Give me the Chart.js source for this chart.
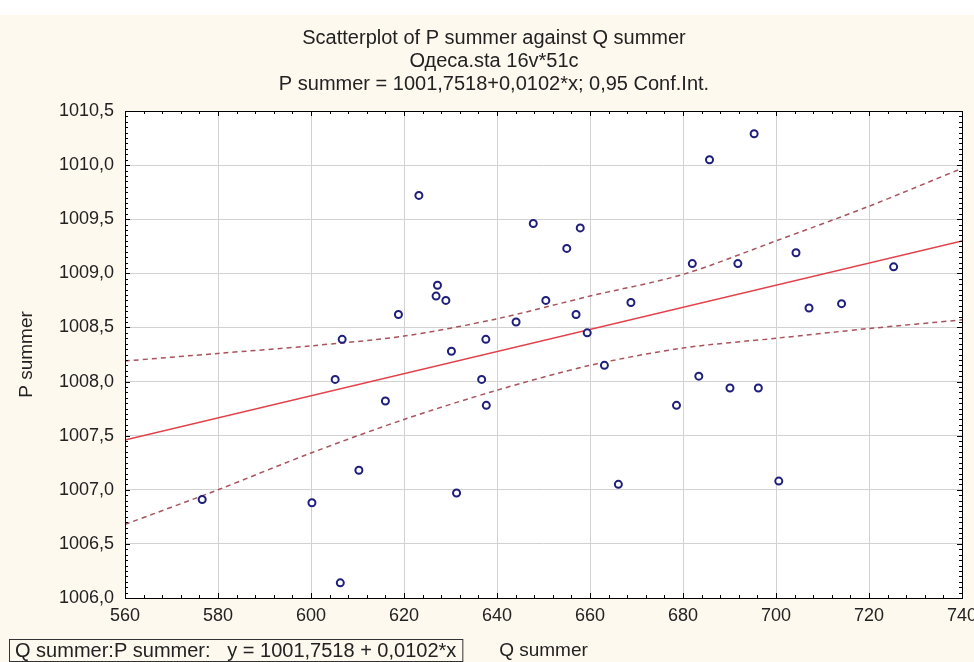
<!DOCTYPE html>
<html>
<head>
<meta charset="utf-8">
<script src="https://cdn.jsdelivr.net/npm/chart.js@4.4.1/dist/chart.umd.min.js"></script>
<style>
html, body { margin: 0; padding: 0; background: #fff; }
#area { display: block; }
</style>
</head>
<body>
<canvas id="area" width="974" height="662"></canvas>
<script>
var qSummer = [576.6, 600.2, 605.2, 606.3, 606.7, 610.3, 616.0, 618.8, 623.2, 626.9,
               627.2, 629.0, 630.2, 631.3, 636.7, 637.6, 637.7, 644.1, 647.8, 650.5,
               655.0, 657.0, 657.9, 659.4, 663.1, 666.1, 668.8, 678.6, 682.0, 683.4,
               685.7, 690.1, 691.8, 695.3, 696.2, 700.6, 704.3, 707.1, 714.1, 725.3];
var pSummer = [1006.91, 1006.88, 1008.02, 1006.14, 1008.39, 1007.18, 1007.82, 1008.62, 1009.72, 1008.79,
               1008.89, 1008.75, 1008.28, 1006.97, 1008.02, 1008.39, 1007.78, 1008.55, 1009.46, 1008.75,
               1009.23, 1008.62, 1009.42, 1008.45, 1008.15, 1007.05, 1008.73, 1007.78, 1009.09, 1008.05,
               1010.05, 1007.94, 1009.09, 1010.29, 1007.94, 1007.08, 1009.19, 1008.68, 1008.72, 1009.06];

// fitted line y = 1001,7518 + 0,0102*x at the axis ends
var fitX = [560, 740];
var fitY = [1007.46, 1009.30];

// 0,95 confidence band
var bandX = [560, 580, 600, 620, 640, 660, 680, 700, 720, 740];
var bandUpper = [1008.19, 1008.26, 1008.33, 1008.42, 1008.58, 1008.79, 1008.99, 1009.30, 1009.62, 1009.97];
var bandLower = [1006.68, 1007.00, 1007.34, 1007.65, 1007.92, 1008.15, 1008.31, 1008.40, 1008.49, 1008.57];

var titleLines = ['Scatterplot of P summer against Q summer', 'Одеса.sta 16v*51c',
                  'P summer = 1001,7518+0,0102*x; 0,95 Conf.Int.'];
var legendText = 'Q summer:P summer:   y = 1001,7518 + 0,0102*x';

var FONT = '"Liberation Sans", Arial, sans-serif';

function pairs(xs, ys) {
    return xs.map(function (x, i) { return { x: x, y: ys[i] }; });
}
function comma(v, digits) {
    return Number(v).toFixed(digits).replace('.', ',');
}

var frame = {
    id: 'frame',
    beforeDraw: function (chart) {
        var c = chart.ctx, a = chart.chartArea;
        c.save();
        c.fillStyle = '#fdf9ef';
        c.fillRect(0, 15, chart.width, chart.height - 15);
        c.fillStyle = '#ffffff';
        c.fillRect(a.left, a.top, a.right - a.left, a.bottom - a.top);
        c.restore();
    },
    afterDraw: function (chart) {
        var c = chart.ctx, a = chart.chartArea;
        var xs = chart.scales.x, ys = chart.scales.y;
        c.save();
        c.strokeStyle = '#000';
        c.lineWidth = 1;
        c.beginPath();
        // minor ticks, pointing inwards
        for (var q = 560; q <= 740; q += 4) {
            var px = Math.round(xs.getPixelForValue(q)) + 0.5;
            var len = (q % 20 === 0) ? 5 : 3;
            c.moveTo(px, a.top); c.lineTo(px, a.top + len);
            c.moveTo(px, a.bottom); c.lineTo(px, a.bottom - len);
        }
        for (var k = 0; k <= 90; k++) {
            var py = Math.round(ys.getPixelForValue(1006 + k * 0.05)) + 0.5;
            var l2 = (k % 10 === 0) ? 5 : 3;
            c.moveTo(a.left, py); c.lineTo(a.left + l2, py);
            c.moveTo(a.right, py); c.lineTo(a.right - l2, py);
        }
        c.stroke();
        c.strokeRect(Math.round(a.left) + 0.5, Math.round(a.top) + 0.5,
                     Math.round(a.right - a.left), Math.round(a.bottom - a.top));
        // regression legend box
        c.font = '20px ' + FONT;
        c.fillStyle = '#222';
        c.textBaseline = 'middle';
        c.fillText(legendText, 15, 651);
        var w = c.measureText(legendText).width;
        c.strokeStyle = '#333';
        c.strokeRect(9.5, 639.5, w + 12, 22);
        c.restore();
    }
};

var ctx = document.getElementById('area').getContext('2d');
var myChart = new Chart(ctx, {
    type: 'scatter',
    data: {
        datasets: [{
            label: 'P summer',
            data: pairs(qSummer, pSummer),
            pointStyle: 'circle',
            pointRadius: 3.5,
            pointBorderWidth: 2,
            borderColor: '#1e1e7c',
            backgroundColor: '#ffffff',
            order: 0
        }, {
            type: 'line',
            label: 'fit',
            data: pairs(fitX, fitY),
            borderColor: '#e2414b',
            borderWidth: 1.5,
            pointRadius: 0,
            order: 1
        }, {
            type: 'line',
            label: 'upper',
            data: pairs(bandX, bandUpper),
            borderColor: '#a8545c',
            borderWidth: 1.5,
            borderDash: [5, 4],
            pointRadius: 0,
            tension: 0.3,
            order: 2
        }, {
            type: 'line',
            label: 'lower',
            data: pairs(bandX, bandLower),
            borderColor: '#a8545c',
            borderWidth: 1.5,
            borderDash: [5, 4],
            pointRadius: 0,
            tension: 0.3,
            order: 2
        }]
    },
    plugins: [frame],
    options: {
        responsive: false,
        animation: false,
        events: [],
        layout: { autoPadding: false, padding: { left: 26, right: 12, top: 0, bottom: 0 } },
        plugins: {
            legend: { display: false },
            tooltip: { enabled: false },
            title: {
                display: true,
                text: titleLines,
                color: '#222',
                font: { family: FONT, size: 20, weight: 'normal', lineHeight: '23px' },
                padding: { top: 27, bottom: 15 }
            }
        },
        scales: {
            x: {
                type: 'linear',
                min: 560, max: 740,
                ticks: {
                    stepSize: 20, padding: 7, color: '#222',
                    font: { family: FONT, size: 18 },
                    callback: function (v) { return comma(v, 0); }
                },
                grid: { color: '#d2d2d2', drawTicks: false },
                border: { display: false },
                title: {
                    display: true, text: 'Q summer', color: '#222',
                    font: { family: FONT, size: 19 },
                    padding: { top: 0, bottom: 0 }
                },
                afterFit: function (s) {
                    s.height = 64;
                    s.paddingLeft = 0; s.paddingRight = 0;
                }
            },
            y: {
                type: 'linear',
                min: 1006, max: 1010.5,
                ticks: {
                    stepSize: 0.5, padding: 11, color: '#222',
                    font: { family: FONT, size: 18 },
                    callback: function (v) { return comma(v, 1); }
                },
                grid: { color: '#d2d2d2', drawTicks: false },
                border: { display: false },
                title: {
                    display: true, text: 'P summer', color: '#222',
                    font: { family: FONT, size: 19 },
                    padding: { top: -10.4, bottom: 0 }
                },
                afterFit: function (s) {
                    s.width = 99;
                    s.paddingTop = 0; s.paddingBottom = 0;
                }
            }
        }
    }
});
</script>
</body>
</html>
